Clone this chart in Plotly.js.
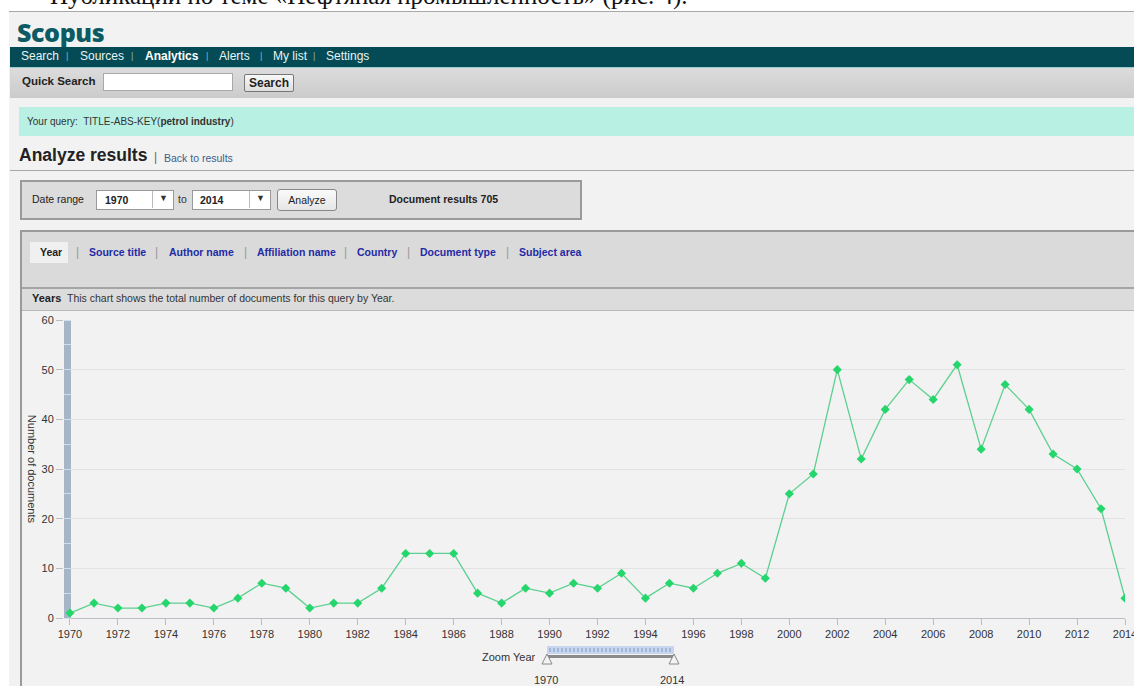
<!DOCTYPE html>
<html>
<head>
<meta charset="utf-8">
<script src="https://cdn.plot.ly/plotly-3.0.1.min.js"></script>
<style>
  html,body{margin:0;padding:0;}
  body{width:1134px;height:686px;overflow:hidden;position:relative;background:#fff;font-family:Arial,"Liberation Sans",sans-serif;color:#222;}
  .abs{position:absolute;white-space:nowrap;}
  #toptext{position:absolute;left:0;top:0;width:1134px;height:11px;overflow:hidden;}
  #toptext span{position:absolute;left:50px;top:-19px;font-family:"Liberation Serif","Times New Roman",serif;font-size:25px;line-height:30px;color:#111;}
  #page{position:absolute;left:9px;top:11px;width:1125px;height:675px;background:#f2f2f2;border-top:1px solid #a8a8a8;}
  .nav{color:#e8f4f4;font-size:12px;}
  .sep{color:#8fb3b8;font-size:9px;}
  .tab{color:#1f2aa5;font-size:10.5px;font-weight:bold;}
  .tsep{color:#999;font-size:12px;}
</style>
</head>
<body>
<div id="toptext"><span>Публикации по теме «Нефтяная промышленность» (рис. 4).</span></div>
<div id="page"></div>

<!-- logo -->
<div class="abs" style="left:17px;top:16px;font-family:'Open Sans',sans-serif;font-weight:800;font-size:25px;color:#0c5a63;letter-spacing:-0.4px;line-height:32px;">Scopus</div>

<!-- nav bar -->
<div class="abs" style="left:10px;top:47px;width:1124px;height:20px;background:#054b56;border-bottom:1px solid #9cc;"></div>
<div class="abs nav" style="left:21px;top:49px;">Search</div>
<div class="abs sep" style="left:66px;top:51px;">|</div>
<div class="abs nav" style="left:80px;top:49px;">Sources</div>
<div class="abs sep" style="left:131px;top:51px;">|</div>
<div class="abs nav" style="left:145px;top:49px;font-weight:bold;color:#fff;">Analytics</div>
<div class="abs sep" style="left:206px;top:51px;">|</div>
<div class="abs nav" style="left:219px;top:49px;">Alerts</div>
<div class="abs sep" style="left:260px;top:51px;">|</div>
<div class="abs nav" style="left:273px;top:49px;">My list</div>
<div class="abs sep" style="left:313px;top:51px;">|</div>
<div class="abs nav" style="left:326px;top:49px;">Settings</div>

<!-- quick search -->
<div class="abs" style="left:10px;top:68px;width:1124px;height:30px;background:linear-gradient(#dcdcdc,#cbcbcb);"></div>
<div class="abs" style="left:22px;top:75px;font-size:11.5px;font-weight:bold;color:#222;">Quick Search</div>
<div class="abs" style="left:103px;top:73px;width:128px;height:16px;background:#fff;border:1px solid #a9a9a9;"></div>
<div class="abs" style="left:244px;top:74px;width:48px;height:16px;background:linear-gradient(#f8f8f8,#dedede);border:1px solid #777;border-radius:2px;font-size:12px;font-weight:bold;text-align:center;line-height:16px;color:#222;">Search</div>

<!-- query -->
<div class="abs" style="left:19px;top:107px;width:1115px;height:29px;background:#b8f0e4;"></div>
<div class="abs" style="left:27px;top:116px;font-size:10px;color:#333;">Your query:&nbsp; TITLE-ABS-KEY(<b>petrol industry</b>)</div>

<!-- analyze results -->
<div class="abs" style="left:19px;top:145px;font-size:17.5px;font-weight:bold;color:#222;">Analyze results</div>
<div class="abs" style="left:154px;top:150px;font-size:12px;color:#666;">|</div>
<div class="abs" style="left:164px;top:152px;font-size:10.5px;color:#3b5f8a;">Back to results</div>
<div class="abs" style="left:10px;top:170px;width:1124px;height:1px;background:#a8a8a8;"></div>

<!-- date range box -->
<div class="abs" style="left:20px;top:180px;width:558px;height:36px;background:#dcdcdc;border:2px solid #9a9a9a;"></div>
<div class="abs" style="left:32px;top:193px;font-size:10.5px;color:#222;">Date range</div>
<div class="abs" style="left:96px;top:190px;width:76px;height:18px;background:#fff;border:1px solid #999;"></div>
<div class="abs" style="left:152px;top:191px;width:1px;height:17px;background:#bbb;"></div>
<div class="abs" style="left:105px;top:194px;font-size:10.5px;font-weight:bold;color:#222;">1970</div>
<div class="abs" style="left:159px;top:193px;font-size:9px;color:#333;">▼</div>
<div class="abs" style="left:178px;top:193px;font-size:10.5px;color:#333;">to</div>
<div class="abs" style="left:192px;top:190px;width:77px;height:18px;background:#fff;border:1px solid #999;"></div>
<div class="abs" style="left:249px;top:191px;width:1px;height:17px;background:#bbb;"></div>
<div class="abs" style="left:200px;top:194px;font-size:10.5px;font-weight:bold;color:#222;">2014</div>
<div class="abs" style="left:256px;top:193px;font-size:9px;color:#333;">▼</div>
<div class="abs" style="left:277px;top:189px;width:58px;height:20px;background:linear-gradient(#fafafa,#e6e6e6);border:1px solid #888;border-radius:3px;font-size:10.5px;text-align:center;line-height:20px;color:#222;">Analyze</div>
<div class="abs" style="left:389px;top:193px;font-size:10.5px;font-weight:bold;color:#222;">Document results 705</div>

<!-- tabs panel -->
<div class="abs" style="left:20px;top:230px;width:1114px;height:2px;background:#9a9a9a;"></div>
<div class="abs" style="left:20px;top:232px;width:2px;height:454px;background:#9a9a9a;"></div>
<div class="abs" style="left:22px;top:232px;width:1112px;height:55px;background:#dadada;"></div>
<div class="abs" style="left:30px;top:242px;width:38px;height:21px;background:#f0f0f0;"></div>
<div class="abs" style="left:40px;top:246px;font-size:10.5px;font-weight:bold;color:#222;">Year</div>
<div class="abs tsep" style="left:76px;top:245px;">|</div>
<div class="abs tab" style="left:89px;top:246px;">Source title</div>
<div class="abs tsep" style="left:155px;top:245px;">|</div>
<div class="abs tab" style="left:169px;top:246px;">Author name</div>
<div class="abs tsep" style="left:244px;top:245px;">|</div>
<div class="abs tab" style="left:257px;top:246px;">Affiliation name</div>
<div class="abs tsep" style="left:344px;top:245px;">|</div>
<div class="abs tab" style="left:357px;top:246px;">Country</div>
<div class="abs tsep" style="left:407px;top:245px;">|</div>
<div class="abs tab" style="left:420px;top:246px;">Document type</div>
<div class="abs tsep" style="left:506px;top:245px;">|</div>
<div class="abs tab" style="left:519px;top:246px;">Subject area</div>
<div class="abs" style="left:22px;top:287px;width:1112px;height:2px;background:#a5a5a5;"></div>
<div class="abs" style="left:22px;top:289px;width:1112px;height:21px;background:#dcdcdc;"></div>
<div class="abs" style="left:32px;top:292px;font-size:10.5px;color:#333;"><b style="color:#222;font-size:11px;">Years</b>&nbsp; This chart shows the total number of documents for this query by Year.</div>
<div class="abs" style="left:22px;top:310px;width:1112px;height:1px;background:#b8b8b8;"></div>

<!-- chart -->
<div id="chart" class="abs" style="left:22px;top:311px;width:1140px;height:375px;"></div>

<!-- zoom year slider -->
<div class="abs" style="left:482px;top:651px;font-size:11px;color:#333;">Zoom Year</div>
<svg class="abs" style="left:538px;top:642px;" width="150" height="26">
  <rect x="9" y="4" width="127" height="8" fill="#c7d6ef"/>
  <g stroke="#8096c0" stroke-width="1">
    <line x1="12" y1="6" x2="12" y2="10"/><line x1="16" y1="6" x2="16" y2="10"/><line x1="20" y1="6" x2="20" y2="10"/><line x1="24" y1="6" x2="24" y2="10"/><line x1="28" y1="6" x2="28" y2="10"/><line x1="32" y1="6" x2="32" y2="10"/><line x1="36" y1="6" x2="36" y2="10"/><line x1="40" y1="6" x2="40" y2="10"/><line x1="44" y1="6" x2="44" y2="10"/><line x1="48" y1="6" x2="48" y2="10"/><line x1="52" y1="6" x2="52" y2="10"/><line x1="56" y1="6" x2="56" y2="10"/><line x1="60" y1="6" x2="60" y2="10"/><line x1="64" y1="6" x2="64" y2="10"/><line x1="68" y1="6" x2="68" y2="10"/><line x1="72" y1="6" x2="72" y2="10"/><line x1="76" y1="6" x2="76" y2="10"/><line x1="80" y1="6" x2="80" y2="10"/><line x1="84" y1="6" x2="84" y2="10"/><line x1="88" y1="6" x2="88" y2="10"/><line x1="92" y1="6" x2="92" y2="10"/><line x1="96" y1="6" x2="96" y2="10"/><line x1="100" y1="6" x2="100" y2="10"/><line x1="104" y1="6" x2="104" y2="10"/><line x1="108" y1="6" x2="108" y2="10"/><line x1="112" y1="6" x2="112" y2="10"/><line x1="116" y1="6" x2="116" y2="10"/><line x1="120" y1="6" x2="120" y2="10"/><line x1="124" y1="6" x2="124" y2="10"/><line x1="128" y1="6" x2="128" y2="10"/><line x1="132" y1="6" x2="132" y2="10"/>
  </g>
  <rect x="9" y="13" width="127" height="3" fill="#8a8a8a"/>
  <polygon points="9,12 4,22 14,22" fill="#f4f4f4" stroke="#888" stroke-width="1"/>
  <polygon points="136,12 131,22 141,22" fill="#f4f4f4" stroke="#888" stroke-width="1"/>
</svg>
<div class="abs" style="left:534px;top:674px;font-size:11px;color:#333;">1970</div>
<div class="abs" style="left:660px;top:674px;font-size:11px;color:#333;">2014</div>

<script>
const years = [1970,1971,1972,1973,1974,1975,1976,1977,1978,1979,
               1980,1981,1982,1983,1984,1985,1986,1987,1988,1989,
               1990,1991,1992,1993,1994,1995,1996,1997,1998,1999,
               2000,2001,2002,2003,2004,2005,2006,2007,2008,2009,
               2010,2011,2012,2013,2014];
const documents = [1,3,2,2,3,3,2,4,7,6,
                   2,3,3,6,13,13,13,5,3,6,
                   5,7,6,9,4,7,6,9,11,8,
                   25,29,50,32,42,48,44,51,34,47,
                   42,33,30,22,4];
const xTickVals = [1970,1972,1974,1976,1978,1980,1982,1984,1986,1988,1990,1992,1994,1996,1998,2000,2002,2004,2006,2008,2010,2012,2014];
const yTickVals = [0,10,20,30,40,50,60];
const yTitle = "Number of documents";

const trace = {
  x: years, y: documents, type: 'scatter', mode: 'lines+markers',
  line: {color: '#5cd08f', width: 1.3},
  marker: {symbol: 'diamond', size: 7, color: '#25d66c'},
  hoverinfo: 'x+y'
};

const layout = {
  width: 1140, height: 375,
  margin: {l: 42, r: 37, t: 9, b: 68},
  paper_bgcolor: '#f2f2f2', plot_bgcolor: '#f2f2f2',
  showlegend: false,
  font: {family: 'Arial, "Liberation Sans", sans-serif', size: 11, color: '#333'},
  xaxis: {
    range: [1969.75, 2014], tickvals: xTickVals, ticktext: xTickVals.map(String),
    showgrid: false, zeroline: false, showline: true, linecolor: '#b9bec4', linewidth: 1,
    ticks: 'outside', ticklen: 6, tickcolor: '#b9bec4', ticklabeloverflow: 'allow',
    tickfont: {size: 11, color: '#333'}, fixedrange: true
  },
  yaxis: {
    range: [0, 60], tickvals: yTickVals, showgrid: true, gridcolor: '#e2e2e2', gridwidth: 1,
    zeroline: false, showline: false,
    ticks: 'outside', ticklen: 7, tickcolor: '#b9bec4',
    minor: {dtick: 5, ticks: 'inside', ticklen: 7, tickcolor: '#d6dde6', showgrid: false},
    tickfont: {size: 11, color: '#333'}, fixedrange: true
  },
  shapes: [{
    type: 'rect', layer: 'below', xref: 'paper', yref: 'y',
    x0: 0, x1: 7/1061, y0: 0, y1: 60,
    fillcolor: '#a7b6c6', line: {width: 0}
  }],
  annotations: [{
    text: yTitle, textangle: 90, xref: 'paper', yref: 'paper',
    x: -0.030, y: 0.5, showarrow: false, xanchor: 'center', yanchor: 'middle',
    font: {size: 11, color: '#333'}
  }]
};

Plotly.newPlot('chart', [trace], layout, {displayModeBar: false, staticPlot: true});
</script>
</body>
</html>
